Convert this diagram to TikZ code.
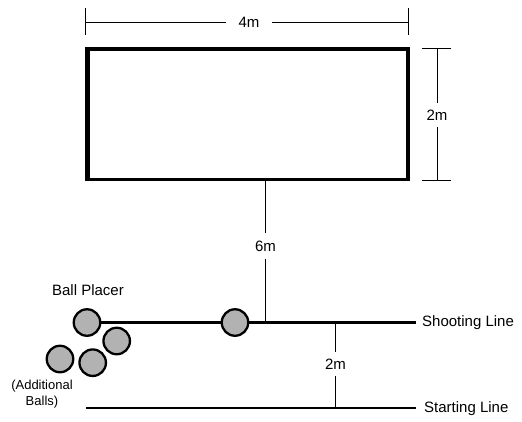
\documentclass[tikz,border=0pt]{standalone}
\usepackage{fontspec}
\setmainfont{Liberation Sans}
\begin{document}
\begin{tikzpicture}[x=1pt,y=-1pt,
  lbl/.style={font=\fontsize{15}{17}\selectfont, inner sep=1pt},
  gaph/.style={lbl, inner xsep=12pt},
  gapv/.style={lbl, inner ysep=7pt},
  smalllbl/.style={font=\fontsize{13}{15.5}\selectfont, align=center, inner sep=1pt},
  ball/.style={circle, draw=black, line width=2.3pt, fill=black!30, minimum size=26.5pt, inner sep=0pt},
  dim/.style={line width=1pt},
  field/.style={line width=2.4pt},
  tick/.style={line width=1pt}]
\useasboundingbox (0,0) rectangle (522,421);
% goal box
\coordinate (tl) at (87.5,49);
\coordinate (tr) at (408,49);
\coordinate (bl) at (87.5,179);
\coordinate (br) at (408,179);
\draw[line width=4.8pt] (bl) -- (tl) -- (tr) -- (br);
\draw[line width=2.6pt] (85.1,179.2) -- (410.4,179.2);
% 4m dimension
\coordinate (d4l) at (85,22);
\coordinate (d4r) at (408,22);
\node[gaph] (l4) at (249,22) {4m};
\draw[dim] (d4l) -- (l4.west);
\draw[dim] (l4.east) -- (d4r);
\draw[tick] (85,8) -- (85,35);
\draw[tick] (408,8) -- (408,35);
% 2m dimension (box)
\coordinate (d2t) at (437,48);
\coordinate (d2b) at (437,180);
\node[gapv] (l2a) at (437,115) {2m};
\draw[dim] (d2t) -- (l2a.north);
\draw[dim] (l2a.south) -- (d2b);
\draw[tick] (422,48) -- (451,48);
\draw[tick] (422,180) -- (451,180);
% lines
\node[ball] (b1) at (87,322.5) {};
\node[ball] (b5) at (235,322.5) {};
\node[ball] (b2) at (116.7,341) {};
\node[ball] (b3) at (60,359) {};
\node[ball] (b4) at (92.7,362.7) {};
\coordinate (se) at (416,322.5);
\coordinate (ts) at (86,408);
\coordinate (te) at (416,408);
\draw[field] (b1.east) -- (b5.west);
\draw[field] (b5.east) -- (se);
\draw[field] (ts) -- (te);
\node[lbl, anchor=west] (shoot) at (421,322.5) {Shooting Line};
\node[lbl, anchor=west] (start) at (423,409) {Starting Line};
% 6m
\coordinate (c6t) at (265.5,181);
\coordinate (c6b) at (265.5,322.5);
\node[gapv] (l6) at (265.5,246) {6m};
\draw[line width=1.2pt] (c6t) -- (l6.north);
\draw[line width=1.2pt] (l6.south) -- (c6b);
% 2m between lines
\coordinate (c2t) at (335.5,322.5);
\coordinate (c2b) at (335.5,408);
\node[gapv] (l2b) at (335.5,364) {2m};
\draw[line width=1.2pt] (c2t) -- (l2b.north);
\draw[line width=1.2pt] (l2b.south) -- (c2b);
% labels
\node[lbl] (bp) at (88,290) {Ball Placer};
\node[smalllbl] (ab) at (42,394) {(Additional\\Balls)};
\end{tikzpicture}
\end{document}
